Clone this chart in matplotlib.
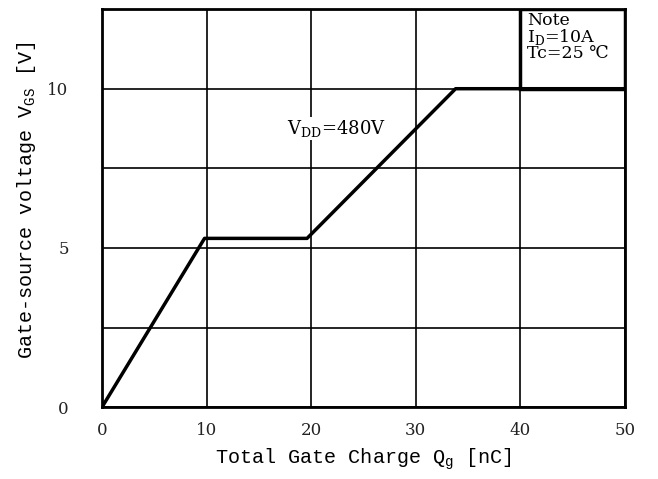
import matplotlib
matplotlib.use("Agg")
import matplotlib.pyplot as plt
from matplotlib.patches import Rectangle

qg = [0, 9.8, 19.6, 33.8, 50]
vgs = [0, 5.3, 5.3, 10, 10]
xticks = [0, 10, 20, 30, 40, 50]
yticks = [0, 5, 10]
ygrid = [2.5, 7.5, 12.5]

fig = plt.figure(figsize=(6.58, 4.79), dpi=100)
ax = fig.add_axes([0.155, 0.150, 0.795, 0.831])
ax.set_xlim(0, 50)
ax.set_ylim(0, 12.5)
ax.set_xticks(xticks)
ax.set_yticks(yticks)
ax.set_yticks(ygrid, minor=True)
ax.grid(True, which='both', color='black', linewidth=1.2)
ax.tick_params(which='both', length=0)
ax.tick_params(axis='x', pad=11)
ax.tick_params(axis='y', pad=24)
for lab in ax.get_xticklabels() + ax.get_yticklabels():
    lab.set_fontfamily('DejaVu Serif')
    lab.set_fontsize(12)
    lab.set_color('#222222')
for s in ax.spines.values():
    s.set_linewidth(2)

ax.plot(qg, vgs, color='black', linewidth=2.5, zorder=5)

ax.add_patch(Rectangle((40, 10), 10, 2.5, fill=False, edgecolor='black',
                       linewidth=2.5, zorder=6))
ax.text(40.6, 12.4, 'Note\nI$_\\mathregular{D}$=10A\nTc=25 \u2103', va='top', ha='left',
        family='DejaVu Serif', fontsize=12.5,
        linespacing=0.85, zorder=7)
ax.text(22.4, 8.75, 'V$_\\mathregular{DD}$=480V', va='center', ha='center',
        family='DejaVu Serif', fontsize=13, zorder=7,
        bbox=dict(facecolor='white', edgecolor='none', pad=1))

ax.set_xlabel('Total Gate Charge Q$_\\mathregular{g}$ [nC]', family='Liberation Mono',
              fontsize=14.5, labelpad=5)
ax.set_ylabel('Gate-source voltage V$_\\mathregular{GS}$ [V]', family='Liberation Mono',
              fontsize=14.5, labelpad=6)
ax.yaxis.set_label_coords(-0.123, 0.52)

fig.savefig('out.png', dpi=100)
